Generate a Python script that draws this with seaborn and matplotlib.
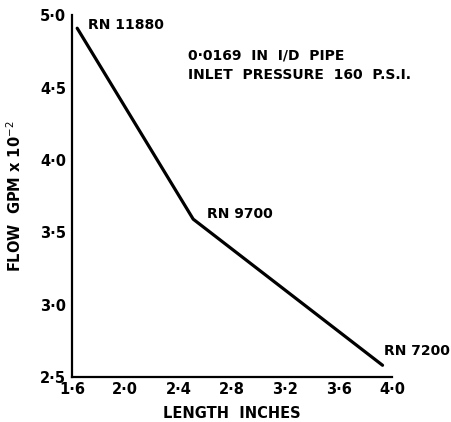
import matplotlib
matplotlib.use("Agg")
import matplotlib.pyplot as plt
import seaborn as sns
import pandas as pd

length_in = [1.64, 2.51, 3.93]
flow_gpm = [4.91, 3.59, 2.58]
rn_labels = ["RN 11880", "RN 9700", "RN 7200"]
x_ticks = [1.6, 2.0, 2.4, 2.8, 3.2, 3.6, 4.0]
x_ticklabels = ["1·6", "2·0", "2·4", "2·8", "3·2", "3·6", "4·0"]
y_ticks = [2.5, 3.0, 3.5, 4.0, 4.5, 5.0]
y_ticklabels = ["2·5", "3·0", "3·5", "4·0", "4·5", "5·0"]

sns.set_theme(style="white")
plt.rcParams['font.family'] = ['DejaVu Sans']

df = pd.DataFrame({"length": length_in, "flow": flow_gpm})

fig = plt.figure(figsize=(4.52, 4.22), dpi=100)
ax = fig.add_axes([0.159, 0.107, 0.708, 0.857])
sns.lineplot(data=df, x="length", y="flow", ax=ax, color="black", linewidth=2.3, sort=False)

ax.set_xlim(1.6, 4.0)
ax.set_ylim(2.5, 5.0)
ax.set_xticks(x_ticks)
ax.set_xticklabels(x_ticklabels)
ax.set_yticks(y_ticks)
ax.set_yticklabels(y_ticklabels)
for s in ["top", "right"]:
    ax.spines[s].set_visible(False)
for s in ["left", "bottom"]:
    ax.spines[s].set_color("black")
    ax.spines[s].set_linewidth(1.6)
ax.tick_params(axis="both", direction="in", length=8, width=1.4, colors="black",
               labelsize=10.5, pad=4)
for lab in ax.get_xticklabels() + ax.get_yticklabels():
    lab.set_fontweight("bold")

ax.set_xlabel("LENGTH  INCHES", fontsize=10.5, fontweight="bold", color="black", labelpad=6)
ax.set_ylabel("FLOW  GPM x 10$^{-2}$", fontsize=10.5, fontweight="bold", color="black", labelpad=12)

offsets = [(8, 2), (10, 4), (1, 10)]
for x, y, t, (dx, dy) in zip(length_in, flow_gpm, rn_labels, offsets):
    ax.annotate(t, (x, y), xytext=(dx, dy), textcoords="offset points",
                fontsize=10, fontweight="bold", color="black", va="center", ha="left")

ax.text(0.363, 0.862, "0·0169  IN  I/D  PIPE\nINLET  PRESSURE  160  P.S.I.",
        transform=ax.transAxes, fontsize=10, fontweight="bold", color="black",
        va="center", ha="left", linespacing=1.45)

fig.savefig("out.png", dpi=100)
